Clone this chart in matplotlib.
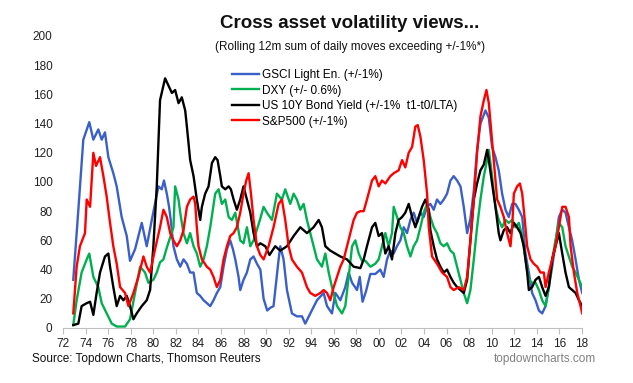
import matplotlib
matplotlib.use("Agg")
import matplotlib.pyplot as plt

plt.rcParams['font.family'] = ['Liberation Sans', 'DejaVu Sans']

# ---- data ----
gsci_x = [1972.91,1973.36,1973.8,1974.33,1974.69,1975.13,1975.43,1975.72,1976.02,1976.46,1976.76,1977.2,1977.65,1977.94,
          1978.39,1978.98,1979.42,1979.87,1980.46,1980.75,1980.95,1981.2,1981.4,1981.55,1981.79,1982.09,1982.39,1982.68,
          1982.98,1983.27,1983.57,1983.86,1984.16,1984.46,1984.75,1985.05,1985.34,1985.64,1985.94,1986.23,1986.53,1986.82,
          1987.06,1987.27,1987.56,1987.71,1988.0,1988.3,1988.6,1988.89,1989.19,1989.49,1989.78,1990.1,1990.4,1990.66,
          1991.11,1991.26,1991.55,1991.85,1992.29,1992.73,1993.18,1993.47,1993.92,1994.51,1995.1,1995.4,1995.84,1996.14,
          1996.58,1997.02,1997.32,1997.62,1998.06,1998.3,1998.55,1998.85,1999.24,1999.68,2000.12,2000.42,2000.72,2001.01,
          2001.31,2001.6,2001.9,2002.2,2002.49,2002.79,2003.08,2003.38,2003.68,2003.97,2004.27,2004.56,2004.86,2005.15,
          2005.45,2005.75,2006.04,2006.34,2006.63,2006.93,2007.23,2007.52,2007.82,2008.11,2008.41,2008.7,2009.0,2009.44,
          2009.74,2010.03,2010.33,2010.62,2010.92,2011.22,2011.51,2011.81,2012.1,2012.4,2012.7,2012.99,2013.29,2013.58,
          2013.88,2014.18,2014.47,2014.77,2015.06,2015.36,2015.65,2015.95,2016.25,2016.54,2016.84,2017.13,2017.43,2017.73,
          2018.02]
gsci_y = [33,81,129,141,129,136,129,134,117,106,97,76,63,46,
          54,72,56,74,97,95,101,92,83,74,56,47,42,47,
          44,38,38,24,22,19,17,15,19,24,28,42,54,60,
          54,47,35,26,33,38,47,49,44,40,20,12,14,15,
          47,56,47,26,10,8,8,3,10,19,24,15,10,24,
          19,28,38,31,26,35,18,25,37,37,40,35,47,53,
          51,56,60,69,65,74,79,72,79,76,83,85,81,88,
          85,88,92,101,104,101,97,83,65,75,94,122,140,149,
          144,124,117,108,92,81,76,85,85,81,76,51,38,24,
          19,12,10,15,28,42,58,76,81,79,69,60,47,33,
          24]

dxy_x = [1972.91,1973.21,1973.65,1974.1,1974.33,1974.69,1975.13,1975.43,1975.87,1976.32,1976.76,1977.5,1977.94,1978.39,
         1978.83,1979.27,1979.57,1980.01,1980.31,1980.6,1980.9,1981.2,1981.5,1981.79,1981.94,1982.24,1982.39,1982.68,
         1982.98,1983.27,1983.57,1983.86,1984.16,1984.46,1984.75,1985.05,1985.49,1985.79,1986.08,1986.38,1986.68,1986.97,
         1987.27,1987.71,1988.0,1988.3,1988.6,1988.89,1989.49,1989.78,1990.07,1990.52,1990.96,1991.4,1991.7,1992.14,
         1992.44,1992.73,1993.03,1993.33,1993.62,1993.92,1994.21,1994.51,1994.95,1995.25,1995.55,1995.84,1996.29,1996.73,
         1997.02,1997.32,1997.62,1997.91,1998.21,1998.5,1998.8,1999.24,1999.68,1999.98,2000.27,2000.57,2000.86,2001.16,
         2001.31,2001.6,2001.9,2002.2,2002.49,2002.79,2003.08,2003.38,2003.68,2003.97,2004.27,2004.56,2004.86,2005.15,
         2005.45,2005.75,2006.04,2006.34,2006.63,2006.93,2007.23,2007.52,2007.82,2008.11,2008.41,2008.7,2009.0,2009.3,
         2009.59,2009.74,2010.03,2010.33,2010.62,2010.92,2011.22,2011.51,2011.81,2012.1,2012.4,2012.7,2012.99,2013.29,
         2013.58,2013.88,2014.18,2014.47,2014.77,2015.06,2015.36,2015.65,2015.95,2016.25,2016.54,2016.84,2017.13,2017.43,
         2017.73,2018.02]
dxy_y = [2,19,38,47,51,35,28,17,10,3,1,1,6,24,
         42,38,31,33,38,45,47,55,62,69,97,88,79,65,
         58,65,56,51,42,47,56,69,92,95,85,88,76,74,
         79,60,58,69,56,60,75,83,79,74,92,88,95,85,
         92,88,81,85,74,65,56,47,42,51,38,28,15,10,
         15,35,56,60,51,46,46,42,44,47,56,65,56,65,
         83,76,69,65,56,49,56,60,69,79,85,76,69,65,
         58,56,58,53,51,42,33,24,17,26,47,69,88,104,
         115,122,104,83,74,69,74,72,74,69,72,63,47,33,
         31,31,26,19,15,28,47,60,72,69,56,49,42,38,
         33,28]

ust_x = [1972.91,1973.36,1973.65,1974.1,1974.4,1974.69,1974.98,1975.28,1975.72,1976.02,1976.17,1976.46,1976.76,1977.06,
         1977.35,1977.65,1977.94,1978.24,1978.53,1978.98,1979.42,1979.72,1980.01,1980.31,1980.6,1981.05,1981.35,1981.65,
         1981.94,1982.24,1982.53,1982.83,1982.98,1983.27,1983.57,1983.86,1984.16,1984.31,1984.6,1984.9,1985.2,1985.49,
         1985.7,1985.94,1986.08,1986.38,1986.68,1986.88,1987.12,1987.41,1987.71,1988.0,1988.3,1988.6,1988.89,1989.19,
         1989.49,1989.93,1990.3,1990.81,1991.26,1991.85,1992.44,1993.03,1993.62,1994.21,1994.66,1994.95,1995.25,1995.69,
         1996.14,1996.58,1997.17,1997.76,1998.36,1998.65,1998.94,1999.39,1999.68,1999.98,2000.27,2000.57,2000.86,2001.16,
         2001.46,2001.75,2002.05,2002.34,2002.64,2002.94,2003.23,2003.53,2003.82,2004.12,2004.42,2004.56,2004.86,2005.15,
         2005.45,2005.75,2006.04,2006.34,2006.63,2006.93,2007.23,2007.52,2007.82,2008.11,2008.41,2008.7,2009.0,2009.3,
         2009.59,2009.74,2010.03,2010.33,2010.62,2010.77,2011.07,2011.36,2011.66,2011.96,2012.25,2012.55,2012.84,2013.14,
         2013.29,2013.58,2013.88,2014.18,2014.47,2014.77,2015.06,2015.36,2015.65,2015.95,2016.25,2016.54,2016.84,2017.13,
         2017.43,2017.73,2018.02]
ust_y = [2,3,15,17,18,9,24,38,49,51,42,28,15,22,
         19,22,15,6,10,15,19,26,56,97,156,171,166,161,
         163,154,158,149,138,115,104,88,74,83,92,97,113,117,
         115,104,97,95,97,95,88,81,88,97,88,79,65,56,
         58,56,50,56,53,56,63,69,65,69,74,69,56,53,
         51,49,47,42,41,47,56,69,72,63,65,51,56,47,
         65,74,76,79,85,76,69,76,83,88,81,67,56,47,
         42,38,40,35,31,28,26,24,33,60,88,99,108,112,
         122,115,99,83,65,60,67,69,65,72,69,65,56,38,
         26,28,33,35,28,22,28,47,56,65,51,38,28,26,
         24,19,15]

spx_x = [1972.91,1973.21,1973.5,1973.95,1974.1,1974.4,1974.69,1974.93,1975.28,1975.58,1975.87,1976.17,1976.46,1976.76,
         1977.06,1977.5,1977.8,1978.24,1978.68,1979.13,1979.42,1979.72,1980.16,1980.6,1980.9,1981.2,1981.5,1981.79,
         1982.09,1982.39,1982.68,1982.98,1983.27,1983.57,1983.72,1983.86,1984.01,1984.31,1984.75,1985.05,1985.34,1985.64,
         1985.94,1986.23,1986.53,1986.82,1987.12,1987.41,1987.71,1988.0,1988.24,1988.45,1988.66,1988.89,1989.19,1989.49,
         1989.78,1990.22,1990.66,1991.11,1991.4,1991.7,1992.0,1992.29,1992.73,1993.18,1993.62,1993.92,1994.36,1994.81,
         1995.1,1995.4,1995.69,1995.99,1996.29,1996.58,1996.88,1997.17,1997.47,1997.76,1998.06,1998.36,1998.65,1998.94,
         1999.39,1999.68,1999.98,2000.27,2000.57,2001.01,2001.31,2001.75,2002.05,2002.34,2002.64,2002.94,2003.23,2003.44,
         2003.68,2003.97,2004.27,2004.42,2004.71,2005.15,2005.6,2006.04,2006.34,2006.63,2007.08,2007.52,2007.82,2008.11,
         2008.41,2008.7,2009.0,2009.3,2009.53,2009.74,2009.94,2010.18,2010.48,2010.77,2011.07,2011.36,2011.66,2011.81,
         2011.96,2012.25,2012.49,2012.7,2012.84,2013.14,2013.44,2013.73,2014.03,2014.32,2014.62,2014.77,2015.06,2015.36,
         2015.65,2015.95,2016.25,2016.54,2016.84,2016.99,2017.28,2017.58,2017.87,2018.02]
spx_y = [10,42,56,65,88,83,120,111,117,104,90,72,56,44,
         28,24,15,24,35,49,42,38,54,69,81,76,65,60,
         56,60,67,83,88,90,85,69,56,47,42,40,35,28,
         33,47,56,63,65,69,79,92,101,106,92,74,56,50,
         47,56,69,85,88,74,56,47,42,38,28,24,22,24,
         26,24,19,28,35,42,47,56,65,74,79,80,80,88,
         101,104,97,101,99,104,106,108,115,110,120,124,138,139,
         131,115,92,69,49,44,38,35,28,26,28,26,35,60,
         88,120,145,156,163,154,136,115,88,83,76,65,56,69,
         92,97,99,92,81,56,47,44,42,38,38,28,38,47,
         56,69,83,83,76,56,38,24,15,10]

labels = ["GSCI Light En. (+/-1%)", "DXY (+/- 0.6%)",
          "US 10Y Bond Yield (+/-1%  t1-t0/LTA)", "S&P500 (+/-1%)"]
colors = ["#3a60c8", "#00b050", "#000000", "#ff0000"]
xtick_years = list(range(1972, 2019, 2))
xtick_labels = [f"{y % 100:02d}" for y in xtick_years]
yticks = list(range(0, 201, 20))

# ---- figure ----
fig = plt.figure(figsize=(6.33, 3.83), dpi=100)
ax = fig.add_axes([63/633, 1-328/383, (582-63)/633, (328-36)/383])

series = [(gsci_x, gsci_y), (dxy_x, dxy_y), (ust_x, ust_y), (spx_x, spx_y)]
for (xs, ys), c, lab in zip(series, colors, labels):
    ax.plot(xs, ys, color=c, lw=1.7, label=lab, solid_joinstyle='round')

ax.set_xlim(1972, 2018)
ax.set_ylim(0, 200)
ax.set_xticks(xtick_years)
ax.set_xticklabels(xtick_labels)
ax.set_yticks(yticks)
for s in ['top', 'right', 'left']:
    ax.spines[s].set_visible(False)
ax.spines['bottom'].set_color('#bfbfbf')
ax.spines['bottom'].set_linewidth(0.8)
ax.tick_params(axis='x', length=4, color='#bfbfbf', labelsize=8.5, pad=3, labelcolor='#222222')
ax.tick_params(axis='y', length=0, labelsize=8.5, pad=7.5, labelcolor='#222222')

leg = ax.legend(loc='upper left', bbox_to_anchor=((232-63)/519, (328-69)/292),
                frameon=False, fontsize=8.5, handlelength=2.3, handletextpad=0.2,
                labelspacing=0.3, borderaxespad=0, borderpad=0)

fig.text(350/633, 1-24/383, "Cross asset volatility views...", ha='center', va='center',
         fontsize=13.5, fontweight='bold', color='#111111')
fig.text(350/633, 1-47/383, "(Rolling 12m sum of daily moves exceeding +/-1%*)", ha='center', va='center',
         fontsize=8.5, color='#111111')
fig.text(32/633, 1-359/383, "Source: Topdown Charts, Thomson Reuters", ha='left', va='center',
         fontsize=8.5, color='#111111')
fig.text(596/633, 1-359/383, "topdowncharts.com", ha='right', va='center',
         fontsize=8.5, color='#808080')

fig.savefig("out.png", dpi=100)
